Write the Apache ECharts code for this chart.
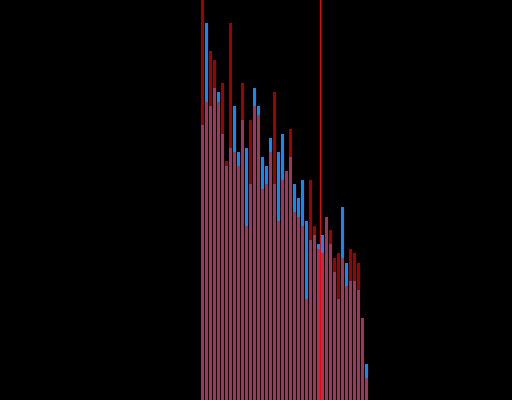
<!DOCTYPE html>
<html>
<head>
<meta charset="utf-8">
<script src="https://cdn.jsdelivr.net/npm/echarts@6/dist/echarts.min.js"></script>
<style>
  html, body { margin: 0; padding: 0; background: #000; }
  #chart { width: 512px; height: 400px; }
</style>
</head>
<body>
<div id="chart"></div>
<script>
// histogram bins, two overlaid distributions
const bins = [
  "1", "2", "3", "4", "5", "6", "7", "8", "9", "10",
  "11", "12", "13", "14", "15", "16", "17", "18", "19", "20",
  "21", "22", "23", "24", "25", "26", "27", "28", "29", "30",
  "31", "32", "33", "34", "35", "36", "37", "38", "39", "40",
  "41", "42"
];
const blueCounts = [
  275, 377, 294, 312, 308, 266, 234, 252, 294, 248,
  280, 252, 216, 312, 294, 243, 234, 262, 216, 248,
  266, 229, 243, 216, 202, 220, 179, 160, 165, 156,
  165, 183, 156, 128, 101, 193, 137, 119, 119, 110,
  82, 36
];
const redCounts = [
  400, 298, 349, 340, 298, 317, 239, 377, 248, 234,
  317, 174, 280, 294, 285, 211, 216, 248, 308, 179,
  220, 229, 271, 188, 183, 174, 101, 220, 174, 151,
  147, 183, 170, 142, 147, 142, 114, 151, 147, 137,
  82, 22
];
const yMax = 400;
// position of the marker line, in bin units from the left edge
const markerPos = 30;

const chart = echarts.init(document.getElementById("chart"));

const option = {
  backgroundColor: "#000000",
  animation: false,
  grid: { left: 200.5, width: 168, top: 0, bottom: 0 },
  xAxis: [
    { type: "category", data: bins, show: false },
    { type: "value", min: 0, max: bins.length, show: false }
  ],
  yAxis: { type: "value", min: 0, max: yMax, show: false, splitLine: { show: false } },
  series: [
    {
      name: "blue",
      type: "bar",
      data: blueCounts,
      barWidth: 3,
      itemStyle: { color: "#0a8cff" }
    },
    {
      name: "red",
      type: "bar",
      data: redCounts,
      barWidth: 3,
      barGap: "-100%",
      itemStyle: { color: "rgba(255, 0, 0, 0.63)" }
    },
    {
      name: "marker",
      type: "scatter",
      xAxisIndex: 1,
      data: [[markerPos, 0]],
      symbolSize: 0,
      silent: true,
      markLine: {
        silent: true,
        symbol: "none",
        label: { show: false },
        lineStyle: { color: "#ff0000", width: 1, type: "solid" },
        data: [{ xAxis: markerPos }]
      }
    }
  ]
};

chart.setOption(option);
</script>
</body>
</html>
